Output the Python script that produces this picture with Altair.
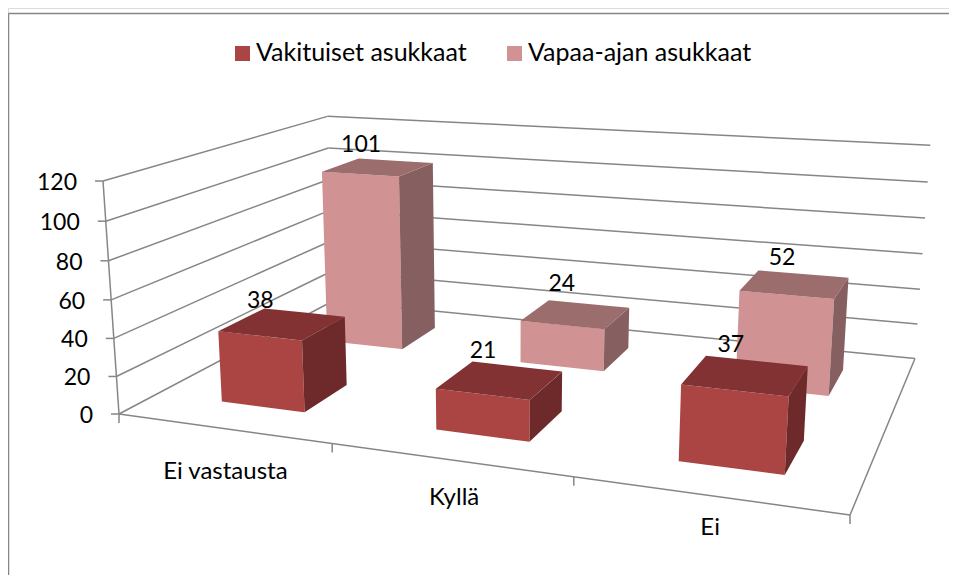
import numpy as np
import pandas as pd
import altair as alt

categories = ["Ei vastausta", "Kyllä", "Ei"]
series_names = ["Vakituiset asukkaat", "Vapaa-ajan asukkaat"]
vakituiset = [38, 21, 37]
vapaa_ajan = [101, 24, 52]
value_ticks = [0, 20, 40, 60, 80, 100, 120]

FONT = "Lato"
GRID = "#868686"
COLORS = {
    0: dict(front="#AA4543", top="#823232", side="#6E2A2A"),
    1: dict(front="#D09292", top="#9C6D6D", side="#866060"),
}

# --- camera for the fake 3D box (floor corners + vertical vanishing point)
floor_src = [(0, 0), (3, 0), (3, 1), (0, 1)]
floor_dst = [(119, 414), (850, 515), (915, 358.5), (333, 301)]
A, b = [], []
for (u, d), (px, py) in zip(floor_src, floor_dst):
    A.append([u, d, 1, 0, 0, 0, -u * px, -d * px]); b.append(px)
    A.append([0, 0, 0, u, d, 1, -u * py, -d * py]); b.append(py)
h = np.linalg.solve(np.array(A, float), np.array(b, float))
H = np.array([[h[0], h[1], h[2]], [h[3], h[4], h[5]], [h[6], h[7], 1.0]])
K = -3.308e-4
VP = np.array([506.0, 6050.0, 1.0]) * K


def proj(u, d, v):
    p = H[:, 0] * u + H[:, 1] * d + VP * v + H[:, 2]
    return float(p[0] / p[2]), float(p[1] / p[2])


BAR_U = 0.2
BAR_SHIFT = 0.02
ROWS = [(0.15, 0.35), (0.65, 0.85)]


def polygon_rows(poly, face, color):
    xs = sorted({round(p[0], 3) for p in poly})
    rows = []
    n = len(poly)
    for x in xs:
        ys = []
        for i in range(n):
            (x0, y0), (x1, y1) = poly[i], poly[(i + 1) % n]
            x0, x1 = round(x0, 3), round(x1, 3)
            if min(x0, x1) <= x <= max(x0, x1):
                if x0 == x1:
                    ys += [y0, y1]
                else:
                    ys.append(y0 + (y1 - y0) * (x - x0) / (x1 - x0))
        rows.append(dict(x=x, y=min(ys), y2=max(ys), face=face, color=color))
    return rows


faces, labels = [], []
LABEL_OFF = {(0, 0): (-22, -23), (1, 0): (-17, -29), (2, 0): (-15, -31),
             (0, 1): (-17, -22), (1, 1): (-14, -30), (2, 1): (-13, -26)}
for s, vals in [(1, vapaa_ajan), (0, vakituiset)]:
    for i, v in enumerate(vals):
        u0, u1 = i + 0.5 + BAR_SHIFT - BAR_U, i + 0.5 + BAR_SHIFT + BAR_U
        d0, d1 = ROWS[s]
        col = COLORS[s]
        front = [proj(u0, d0, 0), proj(u1, d0, 0), proj(u1, d0, v), proj(u0, d0, v)]
        side = [proj(u1, d0, 0), proj(u1, d1, 0), proj(u1, d1, v), proj(u1, d0, v)]
        top = [proj(u0, d0, v), proj(u1, d0, v), proj(u1, d1, v), proj(u0, d1, v)]
        for name, poly in [("front", front), ("side", side), ("top", top)]:
            faces += polygon_rows(poly, f"{s}-{i}-{name}", col[name])
        cx = sum(p[0] for p in top) / 4
        cy = sum(p[1] for p in top) / 4
        ox, oy = LABEL_OFF[(i, s)]
        labels.append(dict(x=cx + ox, y=cy + oy, text=str(v)))

lines = []


def seg(a, b):
    lines.append(dict(x=a[0], y=a[1], x2=b[0], y2=b[1]))


for v in value_ticks:
    seg(proj(0, 0, v), proj(0, 1, v))
    seg(proj(0, 1, v), proj(3, 1, v))
    px, py = proj(0, 0, v)
    seg((px - 8, py), (px, py))
seg(proj(0, 0, 0), proj(0, 0, 120))
seg(proj(0, 0, 0), proj(3, 0, 0))
seg(proj(3, 0, 0), proj(3, 1, 0))
for i in range(4):
    px, py = proj(i, 0, 0)
    seg((px, py), (px, py + 9))

tick_text = []
for v in value_ticks:
    px, py = proj(0, 0, v)
    tick_text.append(dict(x=px - 26, y=py + 2, text=str(v)))

CAT_OFF = [(3, 44), (5, 38), (3, 33)]
cat_text = []
for i, c in enumerate(categories):
    px, py = proj(i + 0.5, 0, 0)
    cat_text.append(dict(x=px + CAT_OFF[i][0], y=py + CAT_OFF[i][1], text=c))

PAGE_X = [8, 949]
PAGE_Y = [575, 8]
sx = alt.Scale(domain=PAGE_X, nice=False, zero=False)
sy = alt.Scale(domain=PAGE_Y, nice=False, zero=False)
X = alt.X("x:Q", scale=sx, axis=None)
Y = alt.Y("y:Q", scale=sy, axis=None)

border = pd.DataFrame([dict(x=8.5, y=13.5, x2=949, y2=13.5), dict(x=8.5, y=13.5, x2=8.5, y2=575)])
border_layer = alt.Chart(border).mark_rule(color=GRID, strokeWidth=1.5).encode(X, Y, x2="x2:Q", y2="y2:Q")
grid_layer = alt.Chart(pd.DataFrame(lines)).mark_rule(color=GRID, strokeWidth=1.5).encode(X, Y, x2="x2:Q", y2="y2:Q")
face_layer = alt.Chart(pd.DataFrame(faces)).mark_area(interpolate="linear").encode(
    X, Y, y2="y2:Q", detail="face:N", color=alt.Color("color:N", scale=None)
)


def text_layer(rows, align="center", size=23):
    return alt.Chart(pd.DataFrame(rows)).mark_text(
        font=FONT, fontSize=size, color="#000000", align=align, baseline="middle"
    ).encode(X, Y, text="text:N")


legend_sw = alt.Chart(pd.DataFrame([
    dict(x=242.5, y=53.5, color=COLORS[0]["front"]),
    dict(x=514.5, y=53.5, color=COLORS[1]["front"]),
])).mark_square(size=225, opacity=1).encode(X, Y, color=alt.Color("color:N", scale=None))
legend_tx = text_layer([
    dict(x=256, y=53, text=series_names[0]),
    dict(x=528, y=53, text=series_names[1]),
], align="left", size=25)

chart = alt.layer(
    border_layer, grid_layer, face_layer,
    text_layer(tick_text, align="right"), text_layer(cat_text, size=24),
    text_layer(labels), legend_sw, legend_tx,
).properties(width=941, height=567, padding=0, autosize=alt.AutoSizeParams(type="none")).configure_view(stroke=None).configure(background="white")

chart.save("out.html", embed_options={"renderer": "svg", "actions": False})
